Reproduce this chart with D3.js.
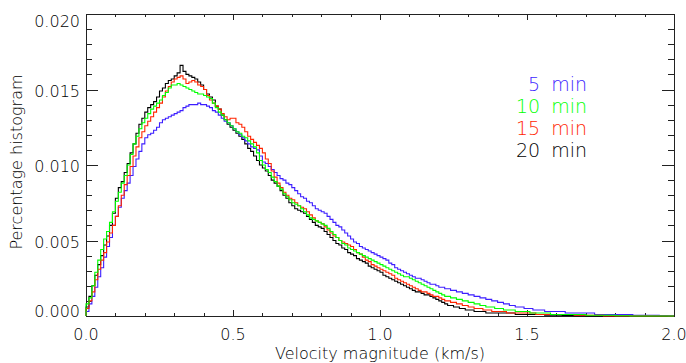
<!DOCTYPE html>
<html>
<head>
<meta charset="utf-8">
<script src="https://cdn.jsdelivr.net/npm/d3@7/dist/d3.min.js"></script>
<style>
  html, body { margin: 0; padding: 0; background: #fff; }
  svg { display: block; }
  text { font-family: "DejaVu Sans ExtraLight", "DejaVu Sans", sans-serif; font-weight: 200; }
</style>
</head>
<body>
<svg id="chart" width="686" height="363"></svg>
<script>
// ---- data (bin width 0.01 km/s, bins start at 0.0) ----
const binWidth = 0.01;
const seriesNames = ["5 min", "10 min", "15 min", "20 min"];
const seriesColors = ["#3c1eff", "#00ff00", "#ff2400", "#000000"];
const xTickValues = [0.0, 0.5, 1.0, 1.5, 2.0];
const xTickLabels = ["0.0", "0.5", "1.0", "1.5", "2.0"];
const yTickValues = [0.000, 0.005, 0.010, 0.015, 0.020];
const yTickLabels = ["0.000", "0.005", "0.010", "0.015", "0.020"];

const hist5 = [
0.0003,0.0008,0.0013,0.0019,0.0026,0.0032,0.0039,0.0046,0.0052,0.0060,
0.0066,0.0072,0.0078,0.0083,0.0088,0.0093,0.0099,0.0104,0.0109,0.0114,
0.0118,0.0120,0.0121,0.0123,0.0125,0.0128,0.0130,0.0131,0.0132,0.0133,
0.0134,0.0135,0.0136,0.0138,0.0139,0.0140,0.0140,0.0140,0.0141,0.0140,
0.0140,0.0139,0.0138,0.0136,0.0135,0.0133,0.0131,0.0129,0.0128,0.0126,
0.0124,0.0122,0.0120,0.0118,0.0116,0.0114,0.0112,0.0111,0.0110,0.0106,
0.0102,0.0101,0.0099,0.0097,0.0095,0.0093,0.0091,0.0090,0.0088,0.0087,
0.0085,0.0083,0.0081,0.0079,0.0078,0.0076,0.0075,0.0073,0.0071,0.0070,
0.0069,0.0068,0.0066,0.0064,0.0062,0.0060,0.0059,0.0057,0.0055,0.0053,
0.0051,0.0049,0.0048,0.0046,0.0045,0.0044,0.0043,0.0042,0.0041,0.0040,
0.0039,0.0038,0.0037,0.0035,0.0034,0.0032,0.0031,0.0030,0.0029,0.0028,
0.0027,0.0026,0.0025,0.0025,0.0024,0.0023,0.0022,0.0021,0.0021,0.0020,
0.0019,0.0019,0.0018,0.0018,0.0017,0.0017,0.0016,0.0016,0.0015,0.0015,
0.0014,0.0014,0.0013,0.0013,0.0012,0.0012,0.0011,0.0011,0.0010,0.0010,
0.0009,0.0009,0.0008,0.0008,0.0007,0.0007,0.0006,0.0006,0.0006,0.0005,
0.0005,0.0005,0.0004,0.0004,0.0004,0.0004,0.0003,0.0003,0.0003,0.0003,
0.0003,0.0003,0.0003,0.0002,0.0002,0.0002,0.0002,0.0002,0.0002,0.0002,
0.0002,0.0002,0.0002,0.0001,0.0001,0.0001,0.0001,0.0001,0.0001,0.0001,
0.0001,0.0001,0.0001,0.0001,0.0001,0.0001,0.00005,0.00005,0.00005,0.00005,
0.00005,0.00005,0.00005,0.00004,0.00004,0.00003,0.00003,0.00003,0.00002,0.00002
];

const hist10 = [
0.0008,0.0012,0.0020,0.0029,0.0037,0.0044,0.0051,0.0056,0.0062,0.0069,
0.0076,0.0082,0.0088,0.0093,0.0100,0.0107,0.0114,0.0119,0.0124,0.0128,
0.0131,0.0134,0.0137,0.0139,0.0141,0.0143,0.0146,0.0148,0.0151,0.0153,
0.0153,0.0154,0.0153,0.0152,0.0151,0.0150,0.0149,0.0148,0.0147,0.0147,
0.0146,0.0145,0.0144,0.0141,0.0138,0.0135,0.0133,0.0130,0.0128,0.0126,
0.0124,0.0122,0.0121,0.0119,0.0118,0.0116,0.0114,0.0112,0.0108,0.0103,
0.0100,0.0097,0.0095,0.0092,0.0089,0.0086,0.0084,0.0081,0.0079,0.0077,
0.0075,0.0074,0.0073,0.0071,0.0069,0.0067,0.0065,0.0064,0.0063,0.0062,
0.0061,0.0060,0.0058,0.0056,0.0054,0.0052,0.0050,0.0048,0.0047,0.0045,
0.0044,0.0043,0.0042,0.0041,0.0040,0.0039,0.0038,0.0037,0.0036,0.0035,
0.0034,0.0033,0.0032,0.0031,0.0030,0.0029,0.0028,0.0027,0.0026,0.0026,
0.0025,0.0024,0.0023,0.0022,0.0021,0.0020,0.0019,0.0018,0.0017,0.0016,
0.0015,0.0014,0.0013,0.0013,0.0012,0.0012,0.0011,0.0011,0.0010,0.0010,
0.0009,0.0009,0.0008,0.0008,0.0007,0.0007,0.0006,0.0006,0.0006,0.0005,
0.0005,0.0005,0.0004,0.0004,0.0004,0.0004,0.0003,0.0003,0.0003,0.0003,
0.0003,0.0002,0.0002,0.0002,0.0002,0.0002,0.0002,0.0002,0.0001,0.0001,
0.0001,0.0001,0.0001,0.0001,0.0001,0.0001,0.0001,0.0001,0.0001,0.0001,
0.00005,0.00005,0.00005,0.00005,0.00005,0.00005,0.00005,0.00005,0.00005,0.00005,
0.00002,0.00002,0.00002,0.00002,0.00002,0,0,0,0,0,
0,0,0,0,0,0,0,0,0,0
];

const hist15 = [
0.0005,0.0010,0.0016,0.0024,0.0031,0.0037,0.0042,0.0049,0.0055,0.0060,
0.0066,0.0073,0.0080,0.0087,0.0093,0.0099,0.0106,0.0112,0.0118,0.0122,
0.0126,0.0129,0.0132,0.0135,0.0138,0.0141,0.0145,0.0149,0.0152,0.0155,
0.0157,0.0158,0.0159,0.0157,0.0154,0.0155,0.0156,0.0155,0.0153,0.0152,
0.0150,0.0146,0.0143,0.0141,0.0139,0.0137,0.0134,0.0132,0.0130,0.0131,
0.0131,0.0128,0.0127,0.0125,0.0122,0.0119,0.0117,0.0115,0.0113,0.0111,
0.0108,0.0104,0.0101,0.0096,0.0092,0.0088,0.0085,0.0082,0.0080,0.0078,
0.0077,0.0075,0.0073,0.0072,0.0071,0.0069,0.0067,0.0065,0.0063,0.0062,
0.0061,0.0059,0.0057,0.0055,0.0053,0.0052,0.0050,0.0049,0.0048,0.0047,
0.0046,0.0044,0.0042,0.0041,0.0039,0.0037,0.0036,0.0034,0.0033,0.0032,
0.0031,0.0030,0.0029,0.0028,0.0027,0.0025,0.0024,0.0023,0.0022,0.0021,
0.0020,0.0019,0.0018,0.0017,0.0016,0.0016,0.0015,0.0014,0.0013,0.0013,
0.0012,0.0011,0.0010,0.0010,0.0009,0.0009,0.0008,0.0008,0.0007,0.0007,
0.0006,0.0006,0.0005,0.0005,0.0005,0.0004,0.0004,0.0004,0.0003,0.0003,
0.0003,0.0003,0.0003,0.0002,0.0002,0.0002,0.0002,0.0002,0.0002,0.0002,
0.0002,0.0002,0.0002,0.0001,0.0001,0.0001,0.0001,0.0001,0.0001,0.0001,
0.0001,0.0001,0.0001,0.0001,0.0001,0.0001,0.00005,0.00005,0.00005,0.00005,
0.00005,0.00005,0.00005,0.00005,0.00005,0.00005,0,0,0,0,
0,0,0,0,0,0,0,0,0,0,
0,0,0,0,0,0,0,0,0,0
];

const hist20 = [
0.0006,0.0013,0.0020,0.0027,0.0034,0.0040,0.0047,0.0053,0.0060,0.0068,
0.0078,0.0085,0.0089,0.0095,0.0101,0.0108,0.0114,0.0121,0.0127,0.0131,
0.0135,0.0138,0.0140,0.0142,0.0145,0.0149,0.0151,0.0154,0.0156,0.0157,
0.0159,0.0161,0.0166,0.0162,0.0160,0.0159,0.0158,0.0157,0.0155,0.0153,
0.0150,0.0147,0.0145,0.0143,0.0139,0.0137,0.0133,0.0130,0.0127,0.0125,
0.0123,0.0121,0.0119,0.0117,0.0114,0.0111,0.0109,0.0106,0.0103,0.0100,
0.0098,0.0096,0.0093,0.0090,0.0088,0.0086,0.0083,0.0080,0.0078,0.0075,
0.0073,0.0071,0.0070,0.0069,0.0068,0.0066,0.0064,0.0062,0.0060,0.0059,
0.0058,0.0056,0.0054,0.0052,0.0050,0.0048,0.0047,0.0045,0.0044,0.0042,
0.0041,0.0040,0.0038,0.0037,0.0036,0.0035,0.0033,0.0032,0.0031,0.0030,
0.0029,0.0027,0.0026,0.0025,0.0024,0.0023,0.0022,0.0021,0.0020,0.0019,
0.0018,0.0017,0.0016,0.0016,0.0015,0.0014,0.0014,0.0013,0.0012,0.0011,
0.0010,0.0009,0.0008,0.0007,0.0007,0.0006,0.0006,0.0005,0.0005,0.0004,
0.0004,0.0004,0.0003,0.0003,0.0003,0.0003,0.0002,0.0002,0.0002,0.0002,
0.0002,0.0002,0.0002,0.0002,0.0002,0.0002,0.0001,0.0001,0.0001,0.0001,
0.0001,0.0001,0.0001,0.0001,0.0001,0.0001,0.00005,0.00005,0.00005,0.00005,
0.00005,0.00005,0.00003,0.00003,0.00003,0.00003,0.00002,0.00002,0.00002,0.00002,
0,0,0,0,0,0,0,0,0,0,
0,0,0,0,0,0,0,0,0,0,
0,0,0,0,0,0,0,0,0,0
];

const seriesValues = [hist5, hist10, hist15, hist20];

// ---- layout ----
const svg = d3.select("#chart");
const plot = { left: 86, right: 674, top: 14, bottom: 316 };
const x = d3.scaleLinear().domain([0, 2]).range([plot.left, plot.right]);
const y = d3.scaleLinear().domain([0, 0.02]).range([plot.bottom, plot.top]);
const axisColor = "#222";
const majorLenY = 12, minorLenY = 6, majorLenX = 6, minorLenX = 3;

const xMinor = d3.range(0, 2.0001, 0.1).map(v => +v.toFixed(2)).filter(v => !xTickValues.some(t => Math.abs(t - v) < 1e-9));
const yMinor = d3.range(0, 0.02001, 0.001).map(v => +v.toFixed(4)).filter(v => !yTickValues.some(t => Math.abs(t - v) < 1e-9));

function styleAxis(g) {
  g.select(".domain").remove();
  g.selectAll("line").attr("stroke", axisColor).attr("stroke-width", 1).attr("shape-rendering", "crispEdges");
  g.selectAll("text").remove();
}

// bottom
svg.append("g").attr("transform", `translate(0,${plot.bottom})`)
  .call(d3.axisBottom(x).tickValues(xTickValues).tickSize(-majorLenX)).call(styleAxis);
svg.append("g").attr("transform", `translate(0,${plot.bottom})`)
  .call(d3.axisBottom(x).tickValues(xMinor).tickSize(-minorLenX)).call(styleAxis);
// top
svg.append("g").attr("transform", `translate(0,${plot.top})`)
  .call(d3.axisTop(x).tickValues(xTickValues).tickSize(-majorLenX)).call(styleAxis);
svg.append("g").attr("transform", `translate(0,${plot.top})`)
  .call(d3.axisTop(x).tickValues(xMinor).tickSize(-minorLenX)).call(styleAxis);
// left
svg.append("g").attr("transform", `translate(${plot.left},0)`)
  .call(d3.axisLeft(y).tickValues(yTickValues).tickSize(-majorLenY)).call(styleAxis);
svg.append("g").attr("transform", `translate(${plot.left},0)`)
  .call(d3.axisLeft(y).tickValues(yMinor).tickSize(-minorLenY)).call(styleAxis);
// right
svg.append("g").attr("transform", `translate(${plot.right},0)`)
  .call(d3.axisRight(y).tickValues(yTickValues).tickSize(-majorLenY)).call(styleAxis);
svg.append("g").attr("transform", `translate(${plot.right},0)`)
  .call(d3.axisRight(y).tickValues(yMinor).tickSize(-minorLenY)).call(styleAxis);

// frame
svg.append("rect")
  .attr("x", plot.left + 0.5).attr("y", plot.top + 0.5)
  .attr("width", plot.right - plot.left).attr("height", plot.bottom - plot.top)
  .attr("fill", "none").attr("stroke", axisColor).attr("stroke-width", 1);

// histograms (step lines)
const line = d3.line()
  .x(d => x(d[0]))
  .y(d => y(d[1]))
  .curve(d3.curveStepAfter);

const drawOrder = [3, 0, 2, 1];
drawOrder.forEach(si => {
  const vals = seriesValues[si];
  const pts = [[0, 0]];
  vals.forEach((v, i) => pts.push([i * binWidth, v]));
  pts.push([vals.length * binWidth, vals[vals.length - 1]]);
  svg.append("path")
    .attr("d", line(pts))
    .attr("fill", "none")
    .attr("stroke", seriesColors[si])
    .attr("stroke-width", 1.1)
    .attr("stroke-linejoin", "miter");
});

// tick labels
const labelColor = "#000";
svg.append("g").selectAll("text").data(xTickValues).join("text")
  .attr("x", d => x(d)).attr("y", 340)
  .attr("text-anchor", "middle")
  .attr("font-size", 16).attr("fill", labelColor)
  .text((d, i) => xTickLabels[i]);

svg.append("g").selectAll("text").data(yTickValues).join("text")
  .attr("x", 80)
  .attr("y", d => Math.min(Math.max(y(d) + 1.5, 21), 311.5))
  .attr("dy", "0.36em")
  .attr("text-anchor", "end")
  .attr("font-size", 16).attr("fill", labelColor)
  .text((d, i) => yTickLabels[i]);

// axis titles
svg.append("text")
  .attr("x", (plot.left + plot.right) / 2).attr("y", 359)
  .attr("text-anchor", "middle").attr("font-size", 16).attr("fill", labelColor)
  .text("Velocity magnitude (km/s)");

svg.append("text")
  .attr("transform", "translate(22,162) rotate(-90)")
  .attr("text-anchor", "middle").attr("font-size", 16).attr("fill", labelColor)
  .text("Percentage histogram");

// legend
svg.append("g").selectAll("text").data(seriesNames).join("text")
  .attr("x", 587)
  .attr("y", (d, i) => 91 + i * 22)
  .attr("text-anchor", "end")
  .attr("font-size", 19)
  .attr("word-spacing", 5)
  .attr("fill", (d, i) => seriesColors[i])
  .text(d => d);
</script>
</body>
</html>
